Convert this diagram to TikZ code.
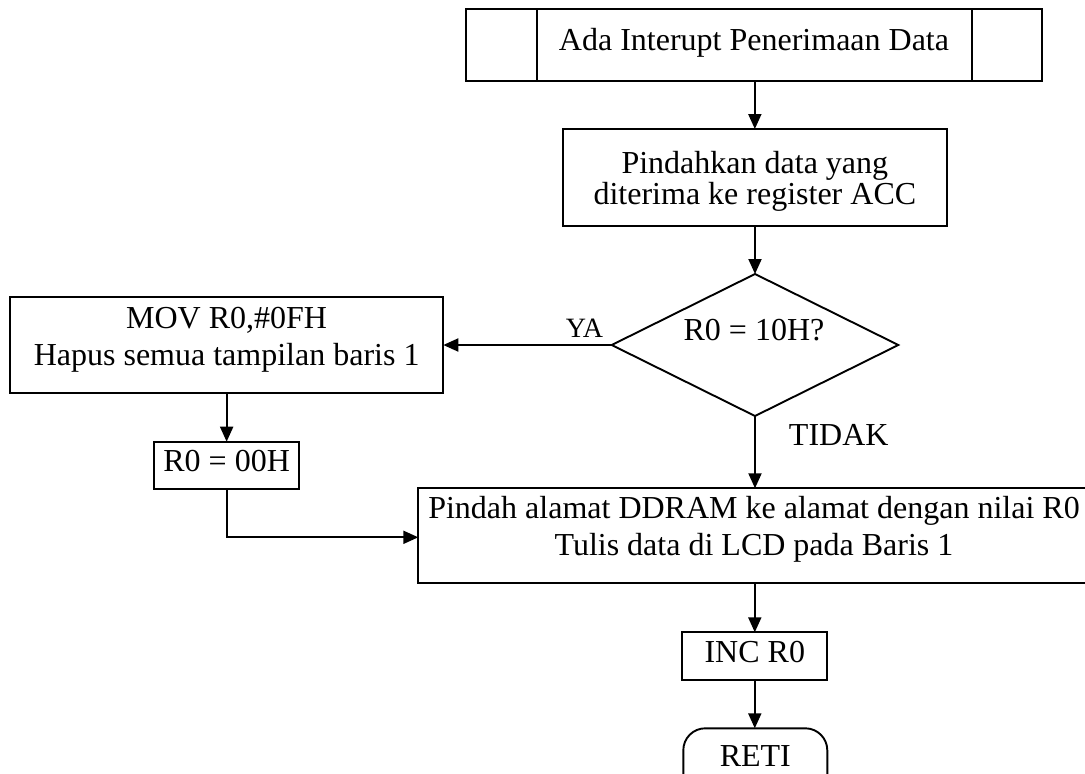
\documentclass[tikz,border=0pt]{standalone}
\usepackage{fontspec}
\setmainfont{Liberation Serif}
\usetikzlibrary{shapes.geometric,arrows.meta}
\begin{document}
\begin{tikzpicture}[x=1pt,y=-1pt,
  line width=1.9pt,
  box/.style={draw, line width=1.9pt, inner sep=0pt, outer sep=0pt},
  txt/.style={font=\fontsize{32}{36}\selectfont, inner sep=0pt, anchor=base},
  smalltxt/.style={font=\fontsize{28}{32}\selectfont, inner sep=0pt, anchor=base},
  arr/.style={-{Triangle[length=15pt,width=13pt]}, line width=1.9pt},
]
\clip (0,0) rectangle (1085,774);
\fill[white] (0,0) rectangle (1085,774);

% start (predefined process)
\node[box, minimum width=576pt, minimum height=71.7pt] (start) at (754,45.15) {};
\draw ([xshift=70.6pt]start.north west) -- ([xshift=70.6pt]start.south west);
\draw ([xshift=-70pt]start.north east) -- ([xshift=-70pt]start.south east);
\node[txt] (tstart) at (754,50) {Ada Interupt Penerimaan Data};

% move data box
\node[box, minimum width=384.3pt, minimum height=97pt] (pind) at (754.85,177.5) {};
\node[txt] (tpind1) at (754.85,173.3) {Pindahkan data yang};
\node[txt] (tpind2) at (754.85,204) {diterima ke register ACC};

% decision
\node[draw, diamond, minimum width=286.6pt, minimum height=142pt, inner sep=0pt, outer sep=0pt, line width=1.9pt] (dec) at (755,345) {};
\node[txt] (tdec) at (754,340) {R0 = 10H?};
\node[smalltxt] (ya) at (584.5,337) {YA};
\node[txt, anchor=base west] (tidak) at (788,445) {TIDAK};

% left box
\node[box, minimum width=433.3pt, minimum height=96pt] (mov) at (226.65,345.3) {};
\node[txt] (tmov1) at (226.65,328.3) {MOV R0,\#0FH};
\node[txt] (tmov2) at (226.65,365) {Hapus semua tampilan baris 1};

% R0 = 00H
\node[box, minimum width=144.7pt, minimum height=47.6pt] (r0) at (226.65,465.5) {};
\node[txt] (tr0) at (226.65,471.7) {R0 = 00H};

% big box
\node[box, minimum width=671.7pt, minimum height=95pt] (lcd) at (754.15,535.8) {};
\node[txt] (tlcd1) at (754,518.3) {Pindah alamat DDRAM ke alamat dengan nilai R0};
\node[txt] (tlcd2) at (754,555) {Tulis data di LCD pada Baris 1};

% INC R0
\node[box, minimum width=145pt, minimum height=47.7pt] (inc) at (754.8,656.15) {};
\node[txt] (tinc) at (754.8,662.7) {INC R0};

% RETI
\node[box, rounded corners=22pt, minimum width=144pt, minimum height=72pt] (reti) at (755.3,764.3) {};
\node[txt] (treti) at (755.3,766) {RETI};

% connectors
\draw[arr] (start.south -| pind.north) -- (pind.north);
\draw[arr] (dec.north |- pind.south) -- (dec.north);
\draw[arr] (dec.west) -- (dec.west -| mov.east);
\draw[arr] (mov.south) -- (r0.north);
\draw[arr] (r0.south) |- (lcd.west |- 0,537.3);
\draw[arr] (dec.south) -- (dec.south |- lcd.north);
\draw[arr] (inc.north |- lcd.south) -- (inc.north);
\draw[arr] (inc.south) -- (inc.south |- reti.north);
\end{tikzpicture}
\end{document}
